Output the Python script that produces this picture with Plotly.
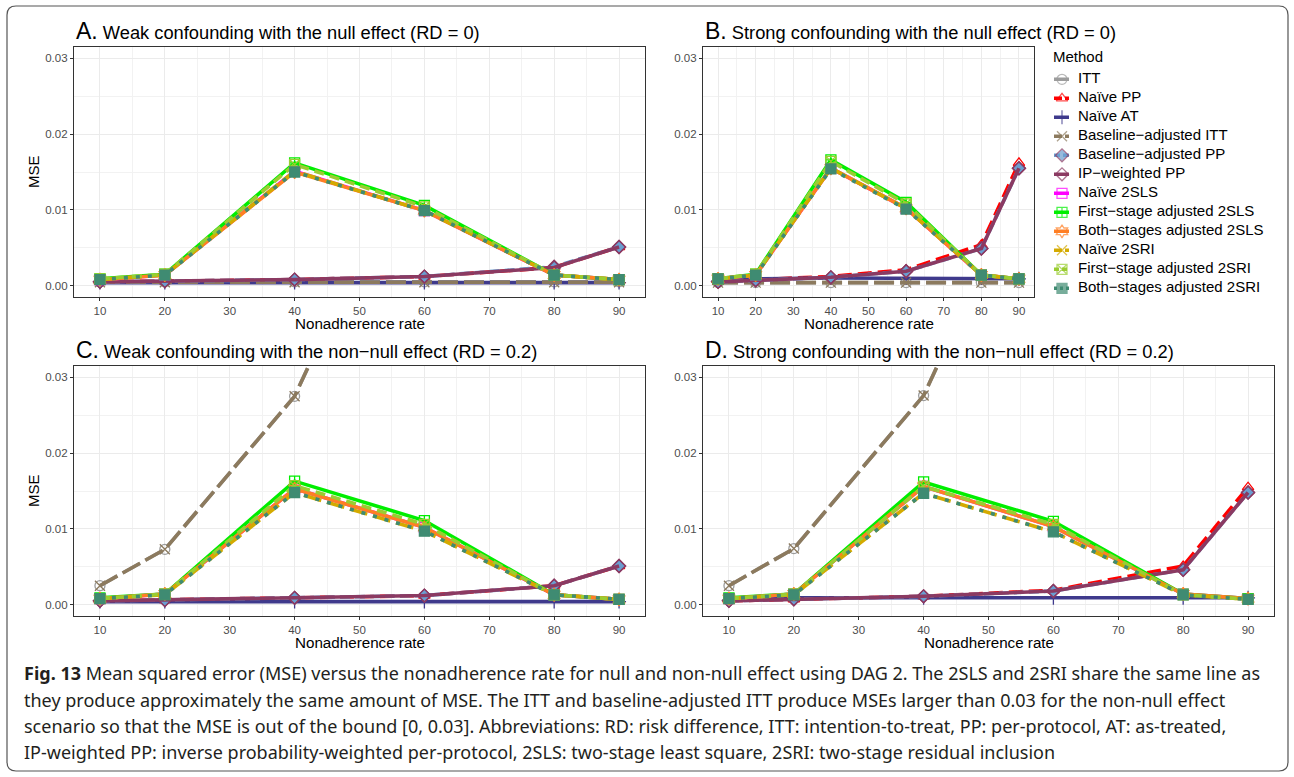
import plotly.graph_objects as go

W, H = 1294, 777

# ---------------- data ----------------
rate = [10, 20, 40, 60, 80, 90]

methods = ["ITT", "Naïve PP", "Naïve AT", "Baseline−adjusted ITT", "Baseline−adjusted PP",
           "IP−weighted PP", "Naïve 2SLS", "First−stage adjusted 2SLS", "Both−stages adjusted 2SLS",
           "Naïve 2SRI", "First−stage adjusted 2SRI", "Both−stages adjusted 2SRI"]

# MSE per method (rows follow `methods`), per panel
mse_A = [
    [0.0005, 0.0005, 0.0005, 0.0005, 0.0005, 0.0005],
    [0.0005, 0.0006, 0.0008, 0.0012, 0.0024, 0.0051],
    [0.0004, 0.0004, 0.0004, 0.0004, 0.0004, 0.0004],
    [0.00045, 0.00045, 0.00045, 0.00045, 0.00045, 0.00045],
    [0.0005, 0.0006, 0.0008, 0.0012, 0.0025, 0.0051],
    [0.0005, 0.0006, 0.0008, 0.0012, 0.0024, 0.0051],
    [0.0008, 0.0014, 0.0151, 0.0099, 0.0014, 0.0008],
    [0.0009, 0.0015, 0.0162, 0.0106, 0.0014, 0.0008],
    [0.0008, 0.0014, 0.0150, 0.0099, 0.0014, 0.0008],
    [0.0008, 0.0014, 0.0151, 0.0099, 0.0014, 0.0008],
    [0.0009, 0.0015, 0.0160, 0.0104, 0.0014, 0.0008],
    [0.0008, 0.0014, 0.0150, 0.0099, 0.0014, 0.0008],
]
mse_B = [
    [0.0004, 0.0004, 0.0004, 0.0004, 0.0004, 0.0004],
    [0.0005, 0.0008, 0.0012, 0.0021, 0.0054, 0.0162],
    [0.0006, 0.0009, 0.0010, 0.0010, 0.0010, 0.0009],
    [0.0004, 0.0004, 0.0004, 0.0004, 0.0004, 0.0004],
    [0.0005, 0.0007, 0.0011, 0.0019, 0.0049, 0.0155],
    [0.0005, 0.0007, 0.0011, 0.0019, 0.0049, 0.0155],
    [0.0009, 0.0014, 0.0155, 0.0102, 0.0014, 0.0009],
    [0.0009, 0.0015, 0.0166, 0.0110, 0.0014, 0.0009],
    [0.0009, 0.0014, 0.0155, 0.0102, 0.0014, 0.0009],
    [0.0009, 0.0014, 0.0155, 0.0102, 0.0014, 0.0009],
    [0.0009, 0.0015, 0.0164, 0.0108, 0.0014, 0.0009],
    [0.0009, 0.0014, 0.0154, 0.0101, 0.0014, 0.0009],
]
mse_C = [
    [0.0025, 0.0073, 0.0275, 0.0620, 0.1000, 0.1200],
    [0.0005, 0.0006, 0.0009, 0.0012, 0.0025, 0.0051],
    [0.0004, 0.0004, 0.0004, 0.0004, 0.0004, 0.0004],
    [0.0025, 0.0073, 0.0275, 0.0620, 0.1000, 0.1200],
    [0.0005, 0.0006, 0.0009, 0.0012, 0.0025, 0.0051],
    [0.0005, 0.0006, 0.0009, 0.0012, 0.0025, 0.0051],
    [0.0008, 0.0014, 0.0153, 0.0102, 0.0013, 0.0007],
    [0.0009, 0.0014, 0.0163, 0.0111, 0.0013, 0.0007],
    [0.0008, 0.0014, 0.0153, 0.0102, 0.0013, 0.0007],
    [0.0008, 0.0013, 0.0148, 0.0097, 0.0013, 0.0007],
    [0.0008, 0.0014, 0.0157, 0.0106, 0.0013, 0.0007],
    [0.0008, 0.0013, 0.0148, 0.0097, 0.0013, 0.0007],
]
mse_D = [
    [0.0025, 0.0074, 0.0276, 0.0650, 0.1000, 0.1200],
    [0.0005, 0.0007, 0.0011, 0.0019, 0.0051, 0.0155],
    [0.0006, 0.0009, 0.0009, 0.0009, 0.0009, 0.0009],
    [0.0025, 0.0074, 0.0276, 0.0650, 0.1000, 0.1200],
    [0.0005, 0.0007, 0.0011, 0.0018, 0.0046, 0.0148],
    [0.0005, 0.0007, 0.0011, 0.0018, 0.0046, 0.0148],
    [0.0008, 0.0014, 0.0156, 0.0103, 0.0014, 0.0008],
    [0.0009, 0.0014, 0.0162, 0.0110, 0.0014, 0.0008],
    [0.0008, 0.0014, 0.0156, 0.0103, 0.0014, 0.0008],
    [0.0008, 0.0013, 0.0147, 0.0096, 0.0013, 0.0007],
    [0.0008, 0.0014, 0.0156, 0.0106, 0.0013, 0.0007],
    [0.0008, 0.0013, 0.0147, 0.0096, 0.0013, 0.0007],
]

panel_titles = ["Weak confounding with the null effect (RD = 0)",
                "Strong confounding with the null effect (RD = 0)",
                "Weak confounding with the non−null effect (RD = 0.2)",
                "Strong confounding with the non−null effect (RD = 0.2)"]
panel_letters = ["A.", "B.", "C.", "D."]

caption_lines = [
    "<b>Fig. 13</b> Mean squared error (MSE) versus the nonadherence rate for null and non-null effect using DAG 2. The 2SLS and 2SRI share the same line as",
    "they produce approximately the same amount of MSE. The ITT and baseline-adjusted ITT produce MSEs larger than 0.03 for the non-null effect",
    "scenario so that the MSE is out of the bound [0, 0.03]. Abbreviations: RD: risk difference, ITT: intention-to-treat, PP: per-protocol, AT: as-treated,",
    "IP-weighted PP: inverse probability-weighted per-protocol, 2SLS: two-stage least square, 2SRI: two-stage residual inclusion",
]

# ---------------- styles ----------------
colors = ["#9C9C9C", "#FF0000", "#3F3A8C", "#8C7A5E", "#6A9ED0", "#8B3A62",
          "#FF00FF", "#00EE00", "#FF7F24", "#D4AA00", "#9ACD32", "#3F8B72"]
dashes = ["20px,6px", "14px,6px", "solid", "20px,6px", "10px,5px", "solid",
          "solid", "solid", "solid", "18px,6px", "10px,6px", "4px,8px"]
key_dashes = ["solid", "8px,3px", "solid", "8px,3px", "6px,3px", "solid",
              "solid", "solid", "solid", "8px,3px", "5px,3px", "3px,3px"]
symbols = ["circle-open", "triangle-up-open", "cross-thin-open", "x-thin-open", "diamond",
           "diamond-open", "square-open", "square-cross-open", "hexagram-open",
           "x-thin-open", "square-x-open", "square"]

FONT = "Liberation Sans"
CAPFONT = "Noto Sans"

def px_x(p):
    return p / W

def px_y(p):
    return 1 - p / H

# panel geometry in pixels: (left, right, top, bottom)
panels = [(74, 645, 47, 297), (703, 1034, 47, 297), (74, 645, 366, 616), (703, 1274, 366, 616)]
data_sets = [mse_A, mse_B, mse_C, mse_D]

fig = go.Figure()
layout = dict(width=W, height=H, autosize=False, showlegend=False,
              margin=dict(l=0, r=0, t=0, b=0),
              paper_bgcolor="white", plot_bgcolor="white",
              font=dict(family=FONT, color="black"))

annotations = []
for k, (l, r, t, b) in enumerate(panels):
    suffix = "" if k == 0 else str(k + 1)
    layout["xaxis" + suffix] = dict(
        domain=[px_x(l), px_x(r)], anchor="y" + suffix, range=[6, 94],
        tick0=10, dtick=10, ticks="outside", ticklen=3, tickwidth=1, tickcolor="#333333",
        showline=True, mirror=True, linecolor="#333333", linewidth=1.2,
        showgrid=True, gridcolor="#EBEBEB", gridwidth=1.1, zeroline=False,
        minor=dict(dtick=5, tick0=5, showgrid=True, gridcolor="#F2F2F2", gridwidth=0.6, ticks=""),
        tickfont=dict(size=11.5, color="#4D4D4D", family=FONT),
        fixedrange=True)
    layout["yaxis" + suffix] = dict(
        domain=[px_y(b), px_y(t)], anchor="x" + suffix, range=[-0.0015, 0.0315],
        tick0=0, dtick=0.01, tickformat=".2f", ticks="outside", ticklen=3, tickwidth=1,
        tickcolor="#333333",
        showline=True, mirror=True, linecolor="#333333", linewidth=1.2,
        showgrid=True, gridcolor="#EBEBEB", gridwidth=1.1, zeroline=False,
        minor=dict(dtick=0.005, tick0=0, showgrid=True, gridcolor="#F2F2F2", gridwidth=0.6, ticks=""),
        tickfont=dict(size=11.5, color="#4D4D4D", family=FONT),
        fixedrange=True)

    vals = data_sets[k]
    for i, m in enumerate(methods):
        fig.add_trace(go.Scatter(
            x=rate, y=vals[i], mode="lines+markers", name=m,
            xaxis="x" + suffix, yaxis="y" + suffix,
            line=dict(color=colors[i], width=3.6, dash=dashes[i]),
            marker=dict(symbol=symbols[i], size=10, color=colors[i],
                        line=dict(color=(colors[5] if i == 4 else colors[i]), width=1.3)),
            cliponaxis=True,
        ))

    # panel title
    annotations.append(dict(
        xref="paper", yref="paper", x=px_x(l), y=px_y(t - 16), xanchor="left", yanchor="middle",
        text="<span style='font-size:23px'>" + panel_letters[k] + "</span> " + panel_titles[k],
        showarrow=False, font=dict(size=18.3, family=FONT, color="black")))
    # x axis title
    annotations.append(dict(
        xref="paper", yref="paper", x=px_x((l + r) / 2), y=px_y(b + 26), xanchor="center",
        yanchor="middle", text="Nonadherence rate", showarrow=False,
        font=dict(size=15.2, family=FONT, color="black")))
    # y axis title (only left column)
    if k in (0, 2):
        annotations.append(dict(
            xref="paper", yref="paper", x=px_x(33), y=px_y((t + b) / 2), xanchor="center",
            yanchor="middle", text="MSE", textangle=-90, showarrow=False,
            font=dict(size=15, family=FONT, color="black")))

# ---------------- legend (drawn on its own hidden axis) ----------------
# x in pixels relative to legend left edge; y = legend row index
LEG_L, LEG_R = 1050, 1290
ROW0, ROWSTEP = 79.3, 19.0
n = len(methods)
leg_top = ROW0 - ROWSTEP / 2
leg_bot = ROW0 + ROWSTEP * (n - 0.5)
layout["xaxis5"] = dict(domain=[px_x(LEG_L), px_x(LEG_R)], range=[0, LEG_R - LEG_L], visible=False,
                        fixedrange=True, anchor="y5")
layout["yaxis5"] = dict(domain=[px_y(leg_bot), px_y(leg_top)], range=[n - 0.5, -0.5], visible=False,
                        fixedrange=True, anchor="x5")
key_x = [4, 12, 19]
for i, m in enumerate(methods):
    fig.add_trace(go.Scatter(
        x=key_x, y=[i, i, i], mode="lines+markers", xaxis="x5", yaxis="y5", hoverinfo="skip",
        line=dict(color=colors[i], width=3.6, dash=key_dashes[i]),
        marker=dict(symbol=symbols[i], size=[0, 10, 0], color=colors[i],
                    line=dict(color=(colors[5] if i == 4 else colors[i]), width=1.3)),
        cliponaxis=False))
fig.add_trace(go.Scatter(
    x=[28] * n, y=list(range(n)), mode="text", text=methods, textposition="middle right",
    xaxis="x5", yaxis="y5", hoverinfo="skip", cliponaxis=False,
    textfont=dict(size=15, family=FONT, color="black")))
annotations.append(dict(
    xref="paper", yref="paper", x=px_x(1051), y=px_y(56), xanchor="left", yanchor="middle",
    text="Method", showarrow=False, font=dict(size=15, family=FONT, color="black")))

# caption
cap_y = [673, 700, 726, 752]
for txt, yy in zip(caption_lines, cap_y):
    annotations.append(dict(
        xref="paper", yref="paper", x=px_x(22), y=px_y(yy), xanchor="left", yanchor="middle",
        text=txt, showarrow=False, font=dict(size=18, family=CAPFONT, color="#231F20")))

layout["annotations"] = annotations

# rounded outer frame
x0, x1, y0, y1 = 7, 1288, 6, 771
rr = 9
def P(xp, yp):
    return f"{px_x(xp):.5f},{px_y(yp):.5f}"
path = (f"M {P(x0 + rr, y0)} L {P(x1 - rr, y0)} Q {P(x1, y0)} {P(x1, y0 + rr)} "
        f"L {P(x1, y1 - rr)} Q {P(x1, y1)} {P(x1 - rr, y1)} "
        f"L {P(x0 + rr, y1)} Q {P(x0, y1)} {P(x0, y1 - rr)} "
        f"L {P(x0, y0 + rr)} Q {P(x0, y0)} {P(x0 + rr, y0)} Z")
layout["shapes"] = [dict(type="path", xref="paper", yref="paper", path=path,
                         line=dict(color="#555555", width=1.2), layer="below")]

fig.update_layout(**layout)
fig.write_html("out.html")
